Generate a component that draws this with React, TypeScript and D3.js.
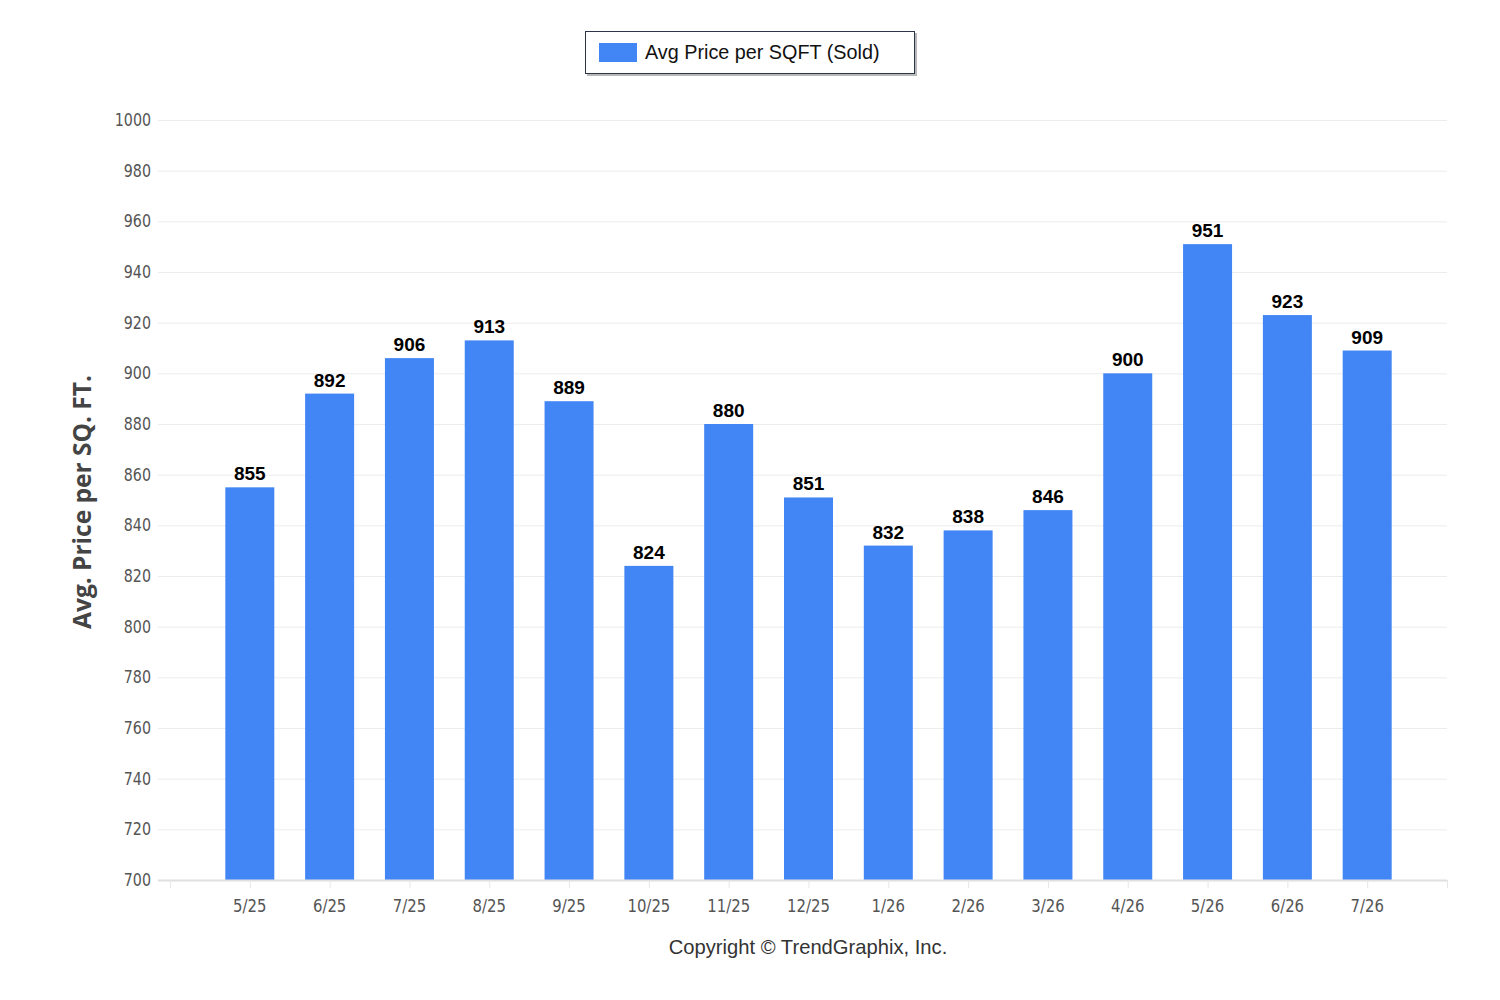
import React, { useEffect, useRef } from 'react';
import * as d3 from 'd3';

const months = ['5/25', '6/25', '7/25', '8/25', '9/25', '10/25', '11/25', '12/25', '1/26', '2/26', '3/26', '4/26', '5/26', '6/26', '7/26'];
const prices = [855, 892, 906, 913, 889, 824, 880, 851, 832, 838, 846, 900, 951, 923, 909];
const yTicks = [700, 720, 740, 760, 780, 800, 820, 840, 860, 880, 900, 920, 940, 960, 980, 1000];

const W = 1500;
const H = 1000;
const tickFont = '"Liberation Sans Narrow", "DejaVu Sans Condensed", sans-serif';

const App = () => {
  const svgRef = useRef(null);

  useEffect(() => {
    const svg = d3.select(svgRef.current);
    svg.selectAll('*').remove();

    // empty slots at each end so the axis extends one step past the bars
    const slots = ['', ...months, ' '];
    const x = d3.scalePoint().domain(slots).range([170, 1447]);
    const y = d3.scaleLinear().domain([700, 1000]).range([880, 120]);
    const barW = 49;

    // grid
    svg
      .append('g')
      .selectAll('line')
      .data(yTicks.slice(1))
      .join('line')
      .attr('x1', 158)
      .attr('x2', 1447)
      .attr('y1', (d) => y(d) + 0.5)
      .attr('y2', (d) => y(d) + 0.5)
      .attr('stroke', '#ececec');

    // y labels
    svg
      .append('g')
      .selectAll('text')
      .data(yTicks)
      .join('text')
      .attr('transform', (d) => `translate(151,${y(d) + 6}) scale(0.88,1)`)
      .attr('text-anchor', 'end')
      .style('font-family', tickFont)
      .style('font-stretch', 'condensed')
      .style('font-size', '18px')
      .attr('fill', '#555')
      .text((d) => d);

    // bars
    svg
      .append('g')
      .selectAll('rect')
      .data(prices)
      .join('rect')
      .attr('x', (d, i) => x(months[i]) - barW / 2)
      .attr('y', (d) => y(d))
      .attr('width', barW)
      .attr('height', (d) => y(700) - y(d))
      .attr('fill', '#4285f4');

    // x axis line + ticks
    svg
      .append('line')
      .attr('x1', 158)
      .attr('x2', 1447)
      .attr('y1', 880.5)
      .attr('y2', 880.5)
      .attr('stroke', '#e0e0e0')
      .attr('stroke-width', 2);
    svg
      .append('g')
      .selectAll('line')
      .data(slots)
      .join('line')
      .attr('x1', (d) => x(d) + 0.5)
      .attr('x2', (d) => x(d) + 0.5)
      .attr('y1', 880)
      .attr('y2', 888)
      .attr('stroke', '#e6e6e6');

    // x labels
    svg
      .append('g')
      .selectAll('text')
      .data(months)
      .join('text')
      .attr('transform', (d) => `translate(${x(d)},912) scale(0.92,1)`)
      .attr('text-anchor', 'middle')
      .style('font-family', tickFont)
      .style('font-stretch', 'condensed')
      .style('font-size', '18px')
      .attr('fill', '#555')
      .text((d) => d);

    // value labels
    svg
      .append('g')
      .selectAll('text')
      .data(prices)
      .join('text')
      .attr('x', (d, i) => x(months[i]))
      .attr('y', (d) => y(d) - 7)
      .attr('text-anchor', 'middle')
      .style('font-family', '"Liberation Sans", Arial, sans-serif')
      .style('font-weight', 'bold')
      .style('font-size', '19px')
      .attr('fill', '#000')
      .text((d) => d);

    // y title
    svg
      .append('text')
      .attr('transform', 'translate(91,502) rotate(-90)')
      .attr('text-anchor', 'middle')
      .style('font-family', '"Open Sans", sans-serif')
      .style('font-weight', 'bold')
      .style('font-size', '24.5px')
      .attr('fill', '#444')
      .text('Avg. Price per SQ. FT.');

    // legend
    const lg = svg.append('g');
    lg.append('rect')
      .attr('x', 587)
      .attr('y', 33)
      .attr('width', 330)
      .attr('height', 43)
      .attr('fill', '#888')
      .attr('opacity', 0.6);
    lg.append('rect')
      .attr('x', 585.5)
      .attr('y', 31.5)
      .attr('width', 329)
      .attr('height', 42)
      .attr('fill', '#fff')
      .attr('stroke', '#2b3547');
    lg.append('rect')
      .attr('x', 599)
      .attr('y', 43)
      .attr('width', 38)
      .attr('height', 19)
      .attr('fill', '#4285f4');
    lg.append('text')
      .attr('x', 645)
      .attr('y', 59)
      .style('font-family', '"Liberation Sans", Arial, sans-serif')
      .style('font-size', '19.8px')
      .attr('fill', '#111')
      .text('Avg Price per SQFT (Sold)');

    // copyright
    svg
      .append('text')
      .attr('x', 808)
      .attr('y', 954)
      .attr('text-anchor', 'middle')
      .style('font-family', '"Liberation Sans", Arial, sans-serif')
      .style('font-size', '20.2px')
      .attr('fill', '#333')
      .text('Copyright \u00a9 TrendGraphix, Inc.');
  }, []);

  return (
    <div>
      <svg
        ref={svgRef}
        width={W}
        height={H}
        style={{ position: 'absolute', left: 0, top: 0, background: '#fff' }}
      ></svg>
    </div>
  );
};

export default App;
